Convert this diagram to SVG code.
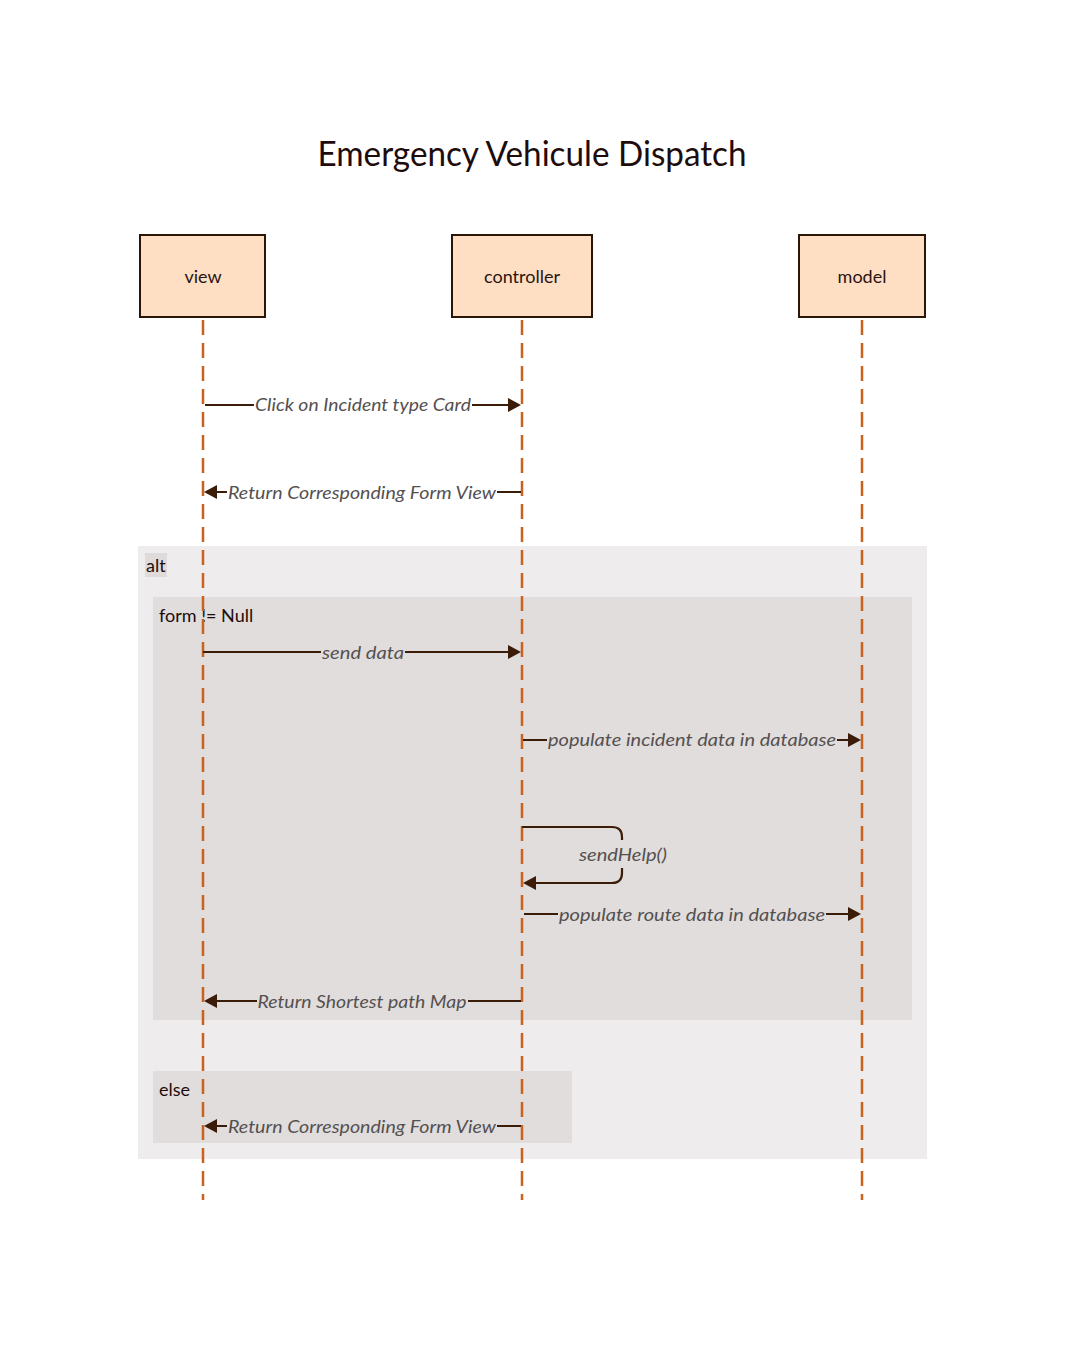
<svg xmlns="http://www.w3.org/2000/svg" width="1065" height="1353" viewBox="0 0 1065 1353">
<style>
text{font-family:"Source Sans Pro","Lato","Liberation Sans",sans-serif}
.title{font-size:34px;fill:#1e0c0c;text-anchor:middle}
.actor{fill:#ffdfc4;stroke:#2b1408;stroke-width:2}
.actorlbl{font-size:18px;fill:#2a1410;text-anchor:middle}
.life{stroke:#c8621c;stroke-width:2.5;stroke-dasharray:15 8;fill:none}
.msg{stroke:#3a1c08;stroke-width:2.2;fill:none}
.mlbl{font-size:18px;font-style:italic;fill:#555050;text-anchor:middle}
.flbl{font-size:18px;fill:#1e0c0c}
.head{fill:#3a1c08}
</style>
<rect width="1065" height="1353" fill="#ffffff"/>
<text class="title" x="532" y="166" textLength="429" lengthAdjust="spacingAndGlyphs">Emergency Vehicule Dispatch</text>

<g id="frames">
<rect x="138" y="546" width="789" height="613" fill="#eeecec"/>
<rect x="145" y="553" width="22" height="24" fill="#dedbda"/>
<text class="flbl" x="146" y="572">alt</text>
<rect x="153" y="597" width="759" height="423" fill="#e0dddc"/>
<text class="flbl" x="159" y="622">form != Null</text>
<rect x="153" y="1071" width="419" height="72" fill="#e0dddc"/>
<text class="flbl" x="159" y="1096">else</text>
</g>

<g id="lifelines">
<line class="life" x1="203" y1="320" x2="203" y2="1200"/>
<line class="life" x1="522" y1="320" x2="522" y2="1200"/>
<line class="life" x1="862" y1="320" x2="862" y2="1200"/>
</g>

<g id="view"><rect class="actor" x="140" y="235" width="125" height="82"/><text class="actorlbl" x="203" y="283">view</text></g>
<g id="controller"><rect class="actor" x="452" y="235" width="140" height="82"/><text class="actorlbl" x="522" y="283">controller</text></g>
<g id="model"><rect class="actor" x="799" y="235" width="126" height="82"/><text class="actorlbl" x="862" y="283">model</text></g>

<g id="connectors">
<path class="msg" d="M205 405H254M472 405H510"/>
<polygon class="head" points="521,405 508,398 508,412"/>
<text class="mlbl" x="363" y="411" textLength="216" lengthAdjust="spacingAndGlyphs">Click on Incident type Card</text>

<path class="msg" d="M521 492H497M227 492H215"/>
<polygon class="head" points="204,492 217,485 217,499"/>
<text class="mlbl" x="362" y="499" textLength="268" lengthAdjust="spacingAndGlyphs">Return Corresponding Form View</text>

<path class="msg" d="M203 652H321M405 652H510"/>
<polygon class="head" points="521,652 508,645 508,659"/>
<text class="mlbl" x="363" y="659" textLength="82" lengthAdjust="spacingAndGlyphs">send data</text>

<path class="msg" d="M523 740H547M837 740H850"/>
<polygon class="head" points="861,740 848,733 848,747"/>
<text class="mlbl" x="692" y="746" textLength="288" lengthAdjust="spacingAndGlyphs">populate incident data in database</text>

<path class="msg" d="M522 827H612Q622 827 622 837V840M622 868V873Q622 883 612 883H534"/>
<polygon class="head" points="523,883 536,876 536,890"/>
<text class="mlbl" x="623" y="861" textLength="88" lengthAdjust="spacingAndGlyphs">sendHelp()</text>

<path class="msg" d="M524 914H558M826 914H850"/>
<polygon class="head" points="861,914 848,907 848,921"/>
<text class="mlbl" x="692" y="921" textLength="266" lengthAdjust="spacingAndGlyphs">populate route data in database</text>

<path class="msg" d="M521 1001H468M257 1001H215"/>
<polygon class="head" points="204,1001 217,994 217,1008"/>
<text class="mlbl" x="362" y="1008" textLength="209" lengthAdjust="spacingAndGlyphs">Return Shortest path Map</text>

<path class="msg" d="M521 1126H497M227 1126H215"/>
<polygon class="head" points="204,1126 217,1119 217,1133"/>
<text class="mlbl" x="362" y="1133" textLength="268" lengthAdjust="spacingAndGlyphs">Return Corresponding Form View</text>
</g>
</svg>
